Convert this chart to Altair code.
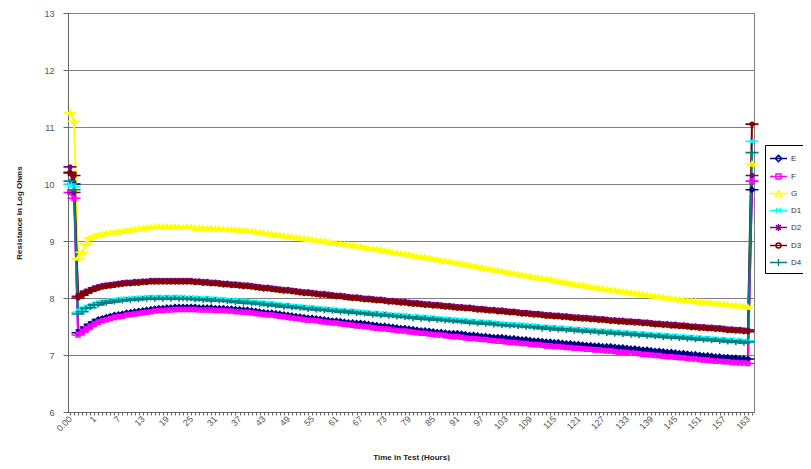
import json
import altair as alt
import pandas as pd

# ---------------- data ----------------
series_names = ["E", "F", "G", "D1", "D2", "D3", "D4"]
series_colors = ["#000080", "#FF00FF", "#FFFF00", "#00FFFF", "#800080", "#800000", "#008080"]

tick_labels = ["0.00", "1", "7", "13", "19", "25", "31", "37", "43", "49", "55", "61",
               "67", "73", "79", "85", "91", "97", "103", "109", "115", "121", "127",
               "133", "139", "145", "151", "157", "163"]

values_E = [
    10.2, 10.0, 7.39, 7.44, 7.49, 7.54, 7.58, 7.62, 7.64, 7.66,
    7.68, 7.7, 7.71, 7.72, 7.74, 7.75, 7.76, 7.77, 7.78, 7.79,
    7.8, 7.81, 7.82, 7.82, 7.83, 7.83, 7.84, 7.84, 7.84, 7.84,
    7.84, 7.84, 7.83, 7.83, 7.83, 7.83, 7.82, 7.82, 7.82, 7.81,
    7.81, 7.8, 7.8, 7.79, 7.79, 7.78, 7.77, 7.76, 7.75, 7.74,
    7.74, 7.73, 7.72, 7.71, 7.7, 7.69, 7.68, 7.67, 7.66, 7.65,
    7.65, 7.64, 7.63, 7.62, 7.61, 7.6, 7.6, 7.59, 7.58, 7.57,
    7.57, 7.56, 7.56, 7.55, 7.54, 7.53, 7.52, 7.51, 7.51, 7.5,
    7.49, 7.48, 7.47, 7.47, 7.46, 7.45, 7.44, 7.43, 7.43, 7.42,
    7.41, 7.4, 7.4, 7.39, 7.38, 7.38, 7.38, 7.37, 7.36, 7.35,
    7.35, 7.34, 7.33, 7.33, 7.32, 7.31, 7.31, 7.31, 7.3, 7.29,
    7.29, 7.28, 7.27, 7.27, 7.26, 7.25, 7.25, 7.24, 7.23, 7.23,
    7.22, 7.22, 7.21, 7.2, 7.2, 7.19, 7.19, 7.18, 7.17, 7.17,
    7.16, 7.16, 7.15, 7.15, 7.15, 7.14, 7.13, 7.13, 7.12, 7.11,
    7.11, 7.1, 7.09, 7.09, 7.08, 7.07, 7.07, 7.06, 7.05, 7.05,
    7.04, 7.03, 7.03, 7.02, 7.01, 7.01, 7.0, 6.99, 6.99, 6.98,
    6.97, 6.97, 6.96, 6.96, 6.95, 6.95, 6.94, 6.94, 6.93, 9.9,
]

values_F = [
    9.85, 9.75, 7.35, 7.4, 7.45, 7.5, 7.54, 7.58, 7.6, 7.62,
    7.64, 7.66, 7.67, 7.68, 7.7, 7.71, 7.72, 7.73, 7.74, 7.75,
    7.76, 7.77, 7.78, 7.78, 7.79, 7.79, 7.8, 7.8, 7.8, 7.8,
    7.8, 7.8, 7.79, 7.79, 7.79, 7.79, 7.78, 7.78, 7.78, 7.77,
    7.77, 7.76, 7.76, 7.75, 7.75, 7.74, 7.73, 7.72, 7.71, 7.7,
    7.7, 7.69, 7.68, 7.67, 7.66, 7.65, 7.64, 7.63, 7.62, 7.61,
    7.61, 7.6, 7.59, 7.58, 7.57, 7.56, 7.56, 7.55, 7.54, 7.53,
    7.52, 7.51, 7.51, 7.5, 7.49, 7.48, 7.47, 7.46, 7.46, 7.45,
    7.44, 7.43, 7.42, 7.42, 7.41, 7.4, 7.39, 7.38, 7.38, 7.37,
    7.36, 7.35, 7.35, 7.34, 7.33, 7.32, 7.32, 7.31, 7.3, 7.29,
    7.29, 7.28, 7.27, 7.27, 7.26, 7.25, 7.24, 7.24, 7.23, 7.22,
    7.22, 7.21, 7.2, 7.2, 7.19, 7.18, 7.18, 7.17, 7.16, 7.16,
    7.15, 7.15, 7.14, 7.13, 7.13, 7.12, 7.12, 7.11, 7.1, 7.1,
    7.09, 7.09, 7.08, 7.07, 7.07, 7.06, 7.05, 7.05, 7.04, 7.03,
    7.03, 7.02, 7.01, 7.01, 7.0, 6.99, 6.99, 6.98, 6.97, 6.97,
    6.96, 6.95, 6.95, 6.94, 6.93, 6.93, 6.92, 6.91, 6.91, 6.9,
    6.89, 6.89, 6.88, 6.88, 6.87, 6.87, 6.86, 6.86, 6.85, 10.05,
]

values_G = [
    11.25, 11.1, 8.7, 8.8, 8.95, 9.05, 9.08, 9.1, 9.12, 9.13,
    9.14, 9.15, 9.16, 9.17, 9.18, 9.19, 9.2, 9.21, 9.22, 9.23,
    9.24, 9.24, 9.25, 9.25, 9.25, 9.25, 9.25, 9.24, 9.24, 9.24,
    9.24, 9.23, 9.23, 9.23, 9.22, 9.22, 9.22, 9.21, 9.21, 9.2,
    9.2, 9.2, 9.19, 9.19, 9.18, 9.17, 9.16, 9.15, 9.14, 9.13,
    9.12, 9.11, 9.1, 9.09, 9.08, 9.07, 9.06, 9.05, 9.04, 9.03,
    9.02, 9.01, 9.0, 8.99, 8.98, 8.97, 8.96, 8.95, 8.94, 8.93,
    8.92, 8.91, 8.9, 8.88, 8.87, 8.86, 8.85, 8.84, 8.83, 8.81,
    8.8, 8.79, 8.78, 8.77, 8.76, 8.74, 8.73, 8.72, 8.71, 8.7,
    8.68, 8.67, 8.66, 8.65, 8.64, 8.62, 8.61, 8.6, 8.59, 8.57,
    8.56, 8.55, 8.53, 8.52, 8.51, 8.49, 8.48, 8.47, 8.45, 8.44,
    8.43, 8.41, 8.4, 8.39, 8.38, 8.36, 8.35, 8.34, 8.33, 8.32,
    8.3, 8.29, 8.28, 8.27, 8.25, 8.24, 8.23, 8.22, 8.2, 8.19,
    8.18, 8.17, 8.16, 8.15, 8.14, 8.13, 8.12, 8.11, 8.1, 8.09,
    8.08, 8.07, 8.06, 8.05, 8.04, 8.03, 8.02, 8.01, 8.0, 7.99,
    7.98, 7.97, 7.97, 7.96, 7.95, 7.94, 7.93, 7.93, 7.92, 7.91,
    7.9, 7.9, 7.89, 7.88, 7.87, 7.87, 7.86, 7.85, 7.84, 10.35,
]

values_D1 = [
    10.0, 9.95, 7.75, 7.8, 7.84, 7.87, 7.9, 7.92, 7.94, 7.95,
    7.96, 7.97, 7.98, 7.99, 7.99, 8.0, 8.0, 8.01, 8.01, 8.02,
    8.02, 8.02, 8.02, 8.02, 8.02, 8.02, 8.02, 8.02, 8.02, 8.01,
    8.01, 8.01, 8.0, 8.0, 8.0, 7.99, 7.99, 7.98, 7.98, 7.97,
    7.97, 7.96, 7.96, 7.95, 7.95, 7.94, 7.93, 7.93, 7.92, 7.91,
    7.91, 7.9, 7.89, 7.88, 7.88, 7.87, 7.86, 7.86, 7.85, 7.84,
    7.84, 7.83, 7.82, 7.82, 7.81, 7.81, 7.8, 7.79, 7.79, 7.78,
    7.78, 7.77, 7.76, 7.76, 7.75, 7.74, 7.74, 7.73, 7.73, 7.72,
    7.71, 7.71, 7.7, 7.7, 7.69, 7.68, 7.68, 7.67, 7.67, 7.66,
    7.66, 7.65, 7.64, 7.64, 7.63, 7.63, 7.62, 7.62, 7.61, 7.6,
    7.6, 7.59, 7.59, 7.58, 7.58, 7.57, 7.56, 7.56, 7.55, 7.55,
    7.54, 7.54, 7.53, 7.53, 7.52, 7.52, 7.51, 7.5, 7.5, 7.49,
    7.49, 7.48, 7.48, 7.47, 7.47, 7.46, 7.46, 7.45, 7.45, 7.44,
    7.44, 7.43, 7.43, 7.42, 7.42, 7.41, 7.41, 7.4, 7.4, 7.39,
    7.39, 7.38, 7.38, 7.37, 7.37, 7.36, 7.36, 7.35, 7.35, 7.34,
    7.34, 7.33, 7.33, 7.32, 7.32, 7.31, 7.31, 7.3, 7.3, 7.29,
    7.29, 7.28, 7.28, 7.27, 7.27, 7.26, 7.26, 7.25, 7.25, 10.75,
]

values_D2 = [
    10.3, 9.85, 8.03, 8.08, 8.12, 8.15, 8.18, 8.2, 8.22, 8.23,
    8.24, 8.25, 8.26, 8.27, 8.28, 8.28, 8.29, 8.29, 8.3, 8.3,
    8.31, 8.31, 8.31, 8.31, 8.31, 8.31, 8.31, 8.31, 8.31, 8.31,
    8.31, 8.3, 8.3, 8.29, 8.29, 8.28, 8.28, 8.27, 8.26, 8.26,
    8.25, 8.25, 8.24, 8.23, 8.23, 8.22, 8.21, 8.2, 8.19, 8.19,
    8.18, 8.17, 8.16, 8.15, 8.15, 8.14, 8.13, 8.12, 8.11, 8.11,
    8.1, 8.09, 8.08, 8.08, 8.07, 8.06, 8.05, 8.05, 8.04, 8.03,
    8.02, 8.02, 8.01, 8.0, 8.0, 7.99, 7.98, 7.98, 7.97, 7.96,
    7.96, 7.95, 7.94, 7.94, 7.93, 7.92, 7.92, 7.91, 7.9, 7.9,
    7.89, 7.89, 7.88, 7.87, 7.87, 7.86, 7.85, 7.85, 7.84, 7.84,
    7.83, 7.82, 7.82, 7.81, 7.8, 7.8, 7.79, 7.79, 7.78, 7.77,
    7.77, 7.76, 7.75, 7.75, 7.74, 7.73, 7.73, 7.72, 7.71, 7.71,
    7.7, 7.7, 7.69, 7.69, 7.68, 7.67, 7.67, 7.66, 7.66, 7.65,
    7.65, 7.64, 7.64, 7.63, 7.62, 7.62, 7.61, 7.61, 7.6, 7.6,
    7.59, 7.59, 7.58, 7.58, 7.57, 7.56, 7.56, 7.55, 7.55, 7.54,
    7.54, 7.53, 7.53, 7.52, 7.51, 7.51, 7.5, 7.5, 7.49, 7.49,
    7.48, 7.48, 7.47, 7.46, 7.46, 7.45, 7.45, 7.44, 7.44, 10.15,
]

values_D3 = [
    10.2, 10.15, 8.0, 8.05, 8.09, 8.12, 8.15, 8.17, 8.19, 8.2,
    8.21, 8.22, 8.23, 8.24, 8.25, 8.25, 8.26, 8.26, 8.27, 8.27,
    8.28, 8.28, 8.28, 8.28, 8.28, 8.28, 8.28, 8.28, 8.28, 8.28,
    8.28, 8.27, 8.27, 8.26, 8.26, 8.25, 8.25, 8.24, 8.23, 8.23,
    8.22, 8.22, 8.21, 8.2, 8.2, 8.19, 8.18, 8.17, 8.16, 8.16,
    8.15, 8.14, 8.13, 8.12, 8.12, 8.11, 8.1, 8.09, 8.08, 8.08,
    8.07, 8.06, 8.05, 8.05, 8.04, 8.03, 8.02, 8.02, 8.01, 8.0,
    7.99, 7.99, 7.98, 7.97, 7.97, 7.96, 7.95, 7.95, 7.94, 7.93,
    7.93, 7.92, 7.91, 7.91, 7.9, 7.89, 7.89, 7.88, 7.87, 7.87,
    7.86, 7.86, 7.85, 7.84, 7.84, 7.83, 7.82, 7.82, 7.81, 7.81,
    7.8, 7.79, 7.79, 7.78, 7.77, 7.77, 7.76, 7.76, 7.75, 7.74,
    7.74, 7.73, 7.72, 7.72, 7.71, 7.7, 7.7, 7.69, 7.68, 7.68,
    7.67, 7.67, 7.66, 7.66, 7.65, 7.64, 7.64, 7.63, 7.63, 7.62,
    7.62, 7.61, 7.61, 7.6, 7.59, 7.59, 7.58, 7.58, 7.57, 7.57,
    7.56, 7.56, 7.55, 7.55, 7.54, 7.53, 7.53, 7.52, 7.52, 7.51,
    7.51, 7.5, 7.5, 7.49, 7.48, 7.48, 7.47, 7.47, 7.46, 7.46,
    7.45, 7.45, 7.44, 7.43, 7.43, 7.42, 7.42, 7.41, 7.41, 11.05,
]

values_D4 = [
    10.05, 9.9, 7.72, 7.76, 7.82, 7.83, 7.88, 7.88, 7.92, 7.91,
    7.94, 7.93, 7.96, 7.95, 7.97, 7.96, 7.98, 7.97, 7.99, 7.98,
    8.0, 7.98, 8.0, 7.98, 8.0, 7.98, 8.0, 7.98, 7.99, 7.98,
    7.99, 7.97, 7.98, 7.96, 7.98, 7.95, 7.97, 7.95, 7.96, 7.94,
    7.95, 7.92, 7.94, 7.91, 7.93, 7.9, 7.91, 7.89, 7.9, 7.87,
    7.89, 7.86, 7.87, 7.84, 7.86, 7.83, 7.84, 7.82, 7.83, 7.8,
    7.82, 7.79, 7.8, 7.78, 7.79, 7.77, 7.78, 7.75, 7.77, 7.74,
    7.76, 7.73, 7.74, 7.72, 7.73, 7.7, 7.72, 7.69, 7.71, 7.68,
    7.69, 7.67, 7.68, 7.66, 7.67, 7.64, 7.66, 7.63, 7.65, 7.62,
    7.64, 7.61, 7.62, 7.6, 7.61, 7.59, 7.6, 7.58, 7.59, 7.56,
    7.58, 7.55, 7.57, 7.54, 7.56, 7.53, 7.54, 7.52, 7.53, 7.51,
    7.52, 7.5, 7.51, 7.49, 7.5, 7.48, 7.49, 7.46, 7.48, 7.45,
    7.47, 7.44, 7.46, 7.43, 7.45, 7.42, 7.44, 7.41, 7.43, 7.4,
    7.42, 7.39, 7.41, 7.38, 7.4, 7.37, 7.39, 7.36, 7.38, 7.35,
    7.37, 7.34, 7.36, 7.33, 7.35, 7.32, 7.34, 7.31, 7.33, 7.3,
    7.32, 7.29, 7.31, 7.28, 7.3, 7.27, 7.29, 7.26, 7.28, 7.25,
    7.27, 7.24, 7.26, 7.23, 7.25, 7.22, 7.24, 7.21, 7.23, 10.55,
]

all_values = [values_E, values_F, values_G, values_D1, values_D2, values_D3, values_D4]

# marker shapes (each with a short horizontal line through it, Excel-legend style)
line_part = "M-1,0H1"
marker_shapes = [
    line_part + "M0,-0.38L0.38,0L0,0.38L-0.38,0Z",                      # diamond
    line_part + "M-0.3,-0.3H0.3V0.3H-0.3Z",                              # square
    line_part + "M0,-0.36L0.36,0.3H-0.36Z",                              # triangle
    line_part + "M-0.3,-0.3L0.3,0.3M-0.3,0.3L0.3,-0.3",                  # x
    line_part + "M-0.3,-0.3L0.3,0.3M-0.3,0.3L0.3,-0.3M0,-0.4V0.4",       # star
    line_part + "M-0.3,0A0.3,0.3 0 1,0 0.3,0A0.3,0.3 0 1,0 -0.3,0Z",     # circle
    line_part + "M0,-0.4V0.4",                                           # plus
]

rows = []
for name, vals in zip(series_names, all_values):
    for i, v in enumerate(vals):
        rows.append({"idx": i, "series": name, "value": v})
df = pd.DataFrame(rows)
n_cat = len(values_E)

label_expr = ("datum.value % 6 == 0 ? " + json.dumps(tick_labels) +
              "[datum.value / 6] : ''")

FONT = "Liberation Sans"

x_enc = alt.X("idx:Q",
              scale=alt.Scale(domain=[-0.5, n_cat - 0.5], nice=False, zero=False),
              axis=alt.Axis(title="Time in Test (Hours)", values=list(range(n_cat)),
                            labelExpr=label_expr, labelAngle=-45, labelAlign="right",
                            labelBaseline="middle", labelOverlap=False, labelFlush=False,
                            tickSize=3, grid=False, labelPadding=2, titlePadding=21))
y_enc = alt.Y("value:Q",
              scale=alt.Scale(domain=[6, 13], nice=False, zero=False),
              axis=alt.Axis(title="Resistance in Log Ohms", values=list(range(6, 14)),
                            tickSize=5, labelPadding=9, titlePadding=20, grid=True))

legend = alt.Legend(title=None, orient="none", legendX=697, legendY=132,
                    symbolSize=289, symbolStrokeWidth=1.4, labelOffset=3,
                    labelFontSize=8, labelFont=FONT, labelColor="#333",
                    strokeColor="#000", fillColor="#fff", padding=4, rowPadding=2)

color_enc = alt.Color("series:N", sort=series_names,
                      scale=alt.Scale(domain=series_names, range=series_colors),
                      legend=legend)
shape_enc = alt.Shape("series:N", sort=series_names,
                      scale=alt.Scale(domain=series_names, range=marker_shapes),
                      legend=legend)

lines = alt.Chart(df).mark_line(strokeWidth=2).encode(
    x=x_enc, y=y_enc, color=color_enc, detail="series:N")

points = alt.Chart(df).mark_point(filled=False, size=170, strokeWidth=1.6, opacity=1).encode(
    x=x_enc, y=y_enc, color=color_enc, shape=shape_enc)

chart = alt.layer(lines, points).properties(
    width=686, height=399,
    autosize=alt.AutoSizeParams(type="none"),
    padding={"left": 60, "top": 5, "right": 49, "bottom": 49},
).configure_view(stroke="#808080", strokeWidth=1).configure_axis(
    labelFont=FONT, titleFont=FONT, labelFontSize=9, titleFontSize=8,
    labelColor="#555", titleColor="#222", titleFontWeight="bold",
    domainColor="#666", tickColor="#666", gridColor="#7f7f7f", gridOpacity=1,
    gridWidth=1
)

chart.save("out.html", embed_options={"renderer": "svg", "actions": False})
